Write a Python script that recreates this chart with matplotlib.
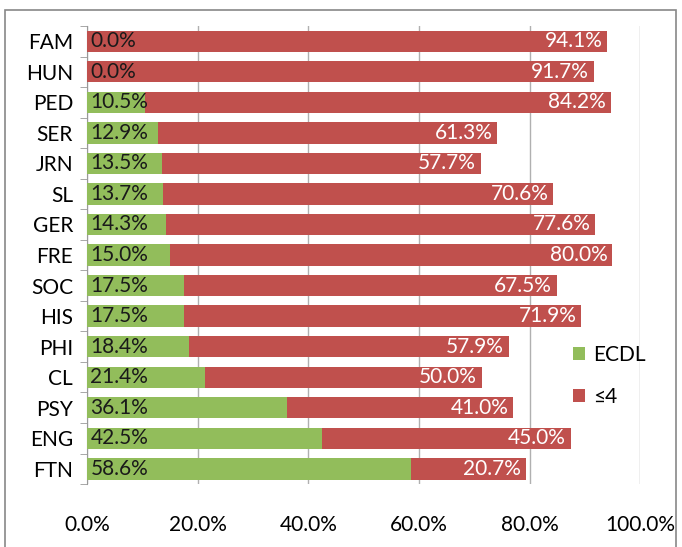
import matplotlib
matplotlib.use("Agg")
import matplotlib.pyplot as plt
from matplotlib.patches import Rectangle
import numpy as np

categories = ["FAM", "HUN", "PED", "SER", "JRN", "SL", "GER", "FRE", "SOC", "HIS", "PHI", "CL", "PSY", "ENG", "FTN"]
ecdl = [0.0, 0.0, 10.5, 12.9, 13.5, 13.7, 14.3, 15.0, 17.5, 17.5, 18.4, 21.4, 36.1, 42.5, 58.6]
le4 = [94.1, 91.7, 84.2, 61.3, 57.7, 70.6, 77.6, 80.0, 67.5, 71.9, 57.9, 50.0, 41.0, 45.0, 20.7]
xticks = [0, 20, 40, 60, 80, 100]

plt.rcParams['font.family'] = ['Lato', 'DejaVu Sans']

green = "#92BD5B"
red = "#C0504D"
fs = 15

fig = plt.figure(figsize=(6.82, 5.47), dpi=100)
ax = fig.add_axes([0.1276, 0.115, 0.811, 0.8375])

n = len(categories)
y = np.arange(n)
h = 0.70
ax.barh(y, ecdl, height=h, color=green, label="ECDL", zorder=3)
ax.barh(y, le4, left=ecdl, height=h, color=red, label="≤4", zorder=3)

for i in range(n):
    ax.text(0.6, y[i], f"{ecdl[i]:.1f}%", va="center", ha="left", fontsize=fs, color="#1a1a1a", zorder=4)
    ax.text(ecdl[i] + le4[i] - 0.9, y[i], f"{le4[i]:.1f}%", va="center", ha="right", fontsize=fs, color="white", zorder=4)

ax.set_xlim(0, 100)
ax.set_ylim(n - 0.5, -0.5)
ax.set_xticks(xticks)
ax.set_xticklabels([f"{v:.1f}%" for v in xticks], fontsize=fs)
ax.set_yticks(y)
ax.set_yticklabels(categories, fontsize=fs)
ax.tick_params(axis="y", length=0, pad=10)
ax.tick_params(axis="x", length=0, pad=22)
ax.set_yticks(np.arange(-0.5, n, 1), minor=True)
ax.tick_params(axis="y", which="minor", length=5, color="#999999", direction="out")
ax.grid(axis="x", color="#b0b0b0", linewidth=1, zorder=0)
for s in ["top", "right", "bottom"]:
    ax.spines[s].set_visible(False)
ax.spines["left"].set_color("#999999")

leg = ax.legend(loc="upper left", bbox_to_anchor=(0.845, 0.345), frameon=False, fontsize=fs,
                handlelength=0.55, handleheight=0.55, labelspacing=1.05, handletextpad=0.4)

fig.patches.append(Rectangle((5/682, -0.01), 671/682, 1 - 10/547 + 0.01, transform=fig.transFigure,
                             fill=False, edgecolor="#888888", linewidth=1.2))

fig.savefig("out.png", dpi=100)
